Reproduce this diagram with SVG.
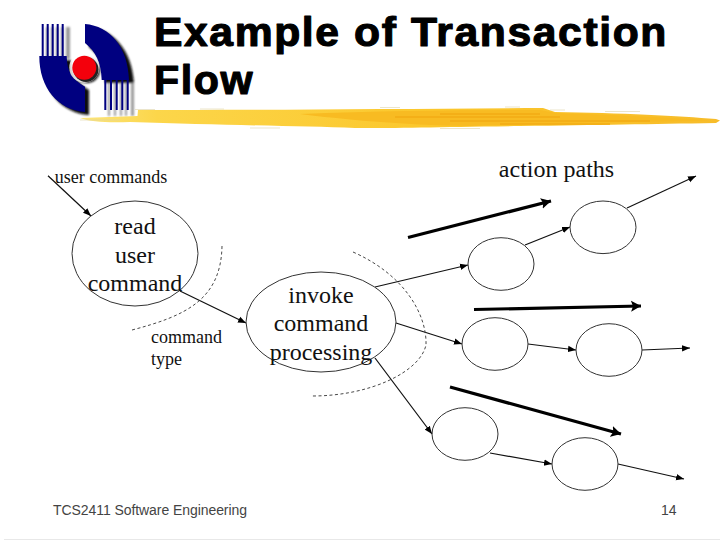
<svg xmlns="http://www.w3.org/2000/svg" width="720" height="540" viewBox="0 0 720 540">
<style>
.n{fill:none;stroke:#333;stroke-width:1}
.c{fill:none;stroke:#111;stroke-width:1.2;marker-end:url(#a)}
.t{fill:none;stroke:#000;stroke-width:3.2;marker-end:url(#b)}
.d{fill:none;stroke:#333;stroke-width:.9;stroke-dasharray:3 2.5}
.s{font-family:"Liberation Serif",serif;fill:#111;text-anchor:middle}
.l{font-size:24px}
.m{font-size:18px}
.f{font-family:"Liberation Sans",sans-serif;font-size:14px;fill:#444}
</style>
<defs>
<marker id="a" markerWidth="10" markerHeight="8" refX="8" refY="4" orient="auto" markerUnits="userSpaceOnUse"><path d="M0 .8L8 4L0 7.2Z" fill="#000"/></marker>
<marker id="b" markerWidth="14" markerHeight="12" refX="10" refY="6" orient="auto" markerUnits="userSpaceOnUse"><path d="M0 .5L10 6L0 11.500L2 6Z" fill="#000"/></marker>
<filter id="blur" x="-10%" y="-10%" width="120%" height="120%"><feGaussianBlur stdDeviation="1.200"/></filter>
<linearGradient id="g" x1="0" x2="1" y1="0" y2="0"><stop offset="0" stop-color="#fbe57e"/><stop offset=".12" stop-color="#fcd64a"/><stop offset=".55" stop-color="#fbc72c"/><stop offset="1" stop-color="#f7bc2a"/></linearGradient>
</defs>
<rect width="720" height="540" fill="#fff"/>
<g id="logo">
<g filter="url(#blur)">
<path d="M46 27h2v32h-2zM51 27h2v32h-2zM56 27h2v32h-2zM61 27h2v32h-2zM66 27h4v32h-4zM108 83h2v33h-2zM114 83h2v33h-2zM120 83h2v33h-2zM125 83h2v33h-2zM131 83h3v33h-3z" fill="#999"/>
<path d="M89 27C113 29 132 50 134 83H105C105 68 100 56 89 47ZM43 60H71C72 76 76 82 89 90V115C62 113 43 92 43 60Z" fill="#111"/>
<circle cx="87" cy="70" r="13" fill="#111"/>
</g>
<g fill="#000080">
<path d="M41.700 24h2v32h-2zM46.700 24h2v32h-2zM51.700 24h2v32h-2zM56.700 24h2v32h-2zM61.700 24h2v32h-2zM104.300 80h2v30h-2zM110 80h2v30h-2zM115.700 80h2v30h-2zM121.300 80h2v30h-2zM126.700 80h2v30h-2z"/>
<path d="M85 24C110 26 128 47 129 80H101.700C101 62 96 52 85 43ZM39.300 56H66.700C67 72 72 79 85 86.700V112C58 110 39.300 88 39.300 56Z"/>
</g>
<circle cx="84.300" cy="67.700" r="15" fill="#fff" opacity=".8"/>
<circle cx="86" cy="69.500" r="12.500" fill="#222"/>
<circle cx="84.300" cy="67.700" r="12" fill="#f4000c"/>
</g>
<g id="brush">
<path d="M80 118L110 117L137.500 116L138 110C260 110 400 109 543 108L555 112C620 113 680 116 716 119L720 120.500L716 123C650 124 600 125 520 126C440 127 400 128 355 128C300 126 220 125 130 122C110 123 90 122 80 118Z" fill="url(#g)"/>
<path d="M300 114C380 111 470 110 540 110L556 113C620 115 670 118 712 120.500C640 122 560 123 470 126C400 125 340 119 300 114Z" fill="#f8bb22"/>
<path d="M440 114H540M395 117H560M450 121H650M500 124H610" stroke="#f2ac14" stroke-width="1.300" fill="none"/>
<path d="M135 109.500H155M200 109H224M380 107.500H400M505 107H520M550 110H565M605 111.500H640M250 128H280M440 128.500H480M80 120H120" stroke="#ddd3a8" stroke-width=".6" fill="none"/>
</g>
<g id="title" font-family="'Liberation Sans',sans-serif" font-weight="700" font-size="40" letter-spacing="1.500" fill="#000" stroke="#000" stroke-width="1.100" stroke-linejoin="round">
<text x="154" y="45.500" textLength="514" lengthAdjust="spacingAndGlyphs">Example of Transaction</text>
<text x="154" y="93.500" textLength="100" lengthAdjust="spacingAndGlyphs">Flow</text>
</g>
<g id="connectors">
<path class="c" d="M48 175.700L91 216"/>
<path class="c" d="M375 287L468 265"/>
<path class="c" d="M180 291L246 323"/>
<path class="c" d="M396 323L462 344"/>
<path class="c" d="M375 358L432 434"/>
<path class="c" d="M525 245L570 227"/>
<path class="c" d="M627 208L696 176"/>
<path class="c" d="M528 344L576 350"/>
<path class="c" d="M642 350L690 348"/>
<path class="c" d="M490 453L552 464"/>
<path class="c" d="M618 464L684 479"/>
<path class="t" d="M408 237.500L551 201"/>
<path class="t" d="M474 309.500L641 306"/>
<path class="t" d="M450 387L621 434"/>
<path class="d" d="M132 330C185 316 221 300 222 246"/>
<path class="d" d="M353 252C405 275 427 315 426 345C420 372 370 396 312 396"/>
</g>
<g id="read"><ellipse class="n" cx="135" cy="253.500" rx="63" ry="52.500"/>
<text class="s l" x="135" y="234">read</text><text class="s l" x="135" y="262.500">user</text><text class="s l" x="135" y="291">command</text></g>
<g id="invoke"><ellipse class="n" cx="321" cy="322" rx="75" ry="50"/>
<text class="s l" x="321" y="302.500">invoke</text><text class="s l" x="321" y="331">command</text><text class="s l" x="321" y="360">processing</text></g>
<g id="n1"><ellipse class="n" cx="501" cy="264" rx="33" ry="26.300"/></g>
<g id="n2"><ellipse class="n" cx="603" cy="227.300" rx="33" ry="26.300"/></g>
<g id="n3"><ellipse class="n" cx="495" cy="344" rx="33" ry="26.300"/></g>
<g id="n4"><ellipse class="n" cx="609" cy="350" rx="33" ry="26.300"/></g>
<g id="n5"><ellipse class="n" cx="465" cy="434" rx="33" ry="26.300"/></g>
<g id="n6"><ellipse class="n" cx="585" cy="464" rx="33" ry="26.300"/></g>
<g id="labels">
<text class="s m" x="111" y="183">user commands</text>
<text class="s l" x="556.500" y="176.500">action paths</text>
<text class="s m" x="151" y="343" style="text-anchor:start">command</text>
<text class="s m" x="151" y="365" style="text-anchor:start">type</text>
</g>
<g id="footer">
<text class="f" x="53" y="515" textLength="194">TCS2411 Software Engineering</text>
<text class="f" x="661" y="515">14</text>
<rect x="4" y="539" width="716" height="1" fill="#e8e8e8"/>
</g>
</svg>
